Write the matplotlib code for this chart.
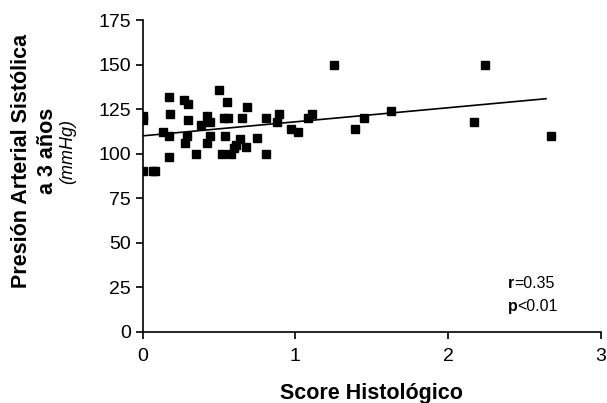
import numpy as np
import matplotlib.pyplot as plt

plt.rcParams['font.family'] = ['Liberation Sans', 'DejaVu Sans']

# score histologico vs presion arterial sistolica
score = [0, 0, 0, 0.065, 0.082, 0.13, 0.17, 0.18, 0.17, 0.17,
         0.27, 0.30, 0.30, 0.29, 0.28, 0.35, 0.38, 0.42, 0.44, 0.44,
         0.42, 0.50, 0.53, 0.56, 0.55, 0.54, 0.52, 0.58, 0.60, 0.61,
         0.64, 0.65, 0.675, 0.68, 0.75, 0.81, 0.81, 0.88, 0.89, 0.97,
         1.02, 1.08, 1.11, 1.25, 1.39, 1.45, 1.625, 2.17, 2.24, 2.67]
pas = [119, 121, 90, 90, 90, 112, 132, 122, 110, 98,
       130, 128, 119, 110, 106, 100, 116, 121, 118, 110,
       106, 136, 120, 120, 129, 110, 100, 100, 103, 105,
       108, 120, 104, 126, 109, 120, 100, 118, 122, 114,
       112, 120, 122, 150, 114, 120, 124, 118, 150, 110]

# recta de regresion
intercept = 110.0
slope = 7.9
fit_x = [0, 2.64]

fig = plt.figure(figsize=(6.07, 4.03), dpi=100)
ax = fig.add_axes([0.235, 0.177, 0.755, 0.773])

ax.plot(score, pas, 's', color='black', ms=5.2)
fx = np.array(fit_x)
ax.plot(fx, intercept + slope*fx, color='black', lw=1.2)

ax.set_xlim(0, 3)
ax.set_ylim(0, 175)
ax.set_xticks([0, 1, 2, 3])
ax.set_yticks(np.arange(0, 176, 25))
ax.spines['top'].set_visible(False)
ax.spines['right'].set_visible(False)
ax.tick_params(labelsize=14, length=5, width=1.2)
ax.tick_params(axis='x', pad=7)
for s in ['left', 'bottom']:
    ax.spines[s].set_linewidth(1.2)

ax.set_xlabel('Score Histológico', fontsize=15.5, fontweight='bold', labelpad=13)

# etiqueta eje y en tres lineas
fig.text(0.036, 0.60, 'Presión Arterial Sistólica', rotation=90, fontsize=15.5,
         fontweight='bold', ha='center', va='center')
fig.text(0.079, 0.625, 'a 3 años', rotation=90, fontsize=15.5,
         fontweight='bold', ha='center', va='center')
fig.text(0.112, 0.625, '(mmHg)', rotation=90, fontsize=13,
         style='italic', ha='center', va='center')

t1 = ax.text(2.39, 27, 'r', fontsize=11.5, fontweight='bold', va='center')
ax.annotate('=0.35', xy=(1, 0.5), xycoords=t1, va='center', fontsize=11.5)
t2 = ax.text(2.39, 14, 'p', fontsize=11.5, fontweight='bold', va='center')
ax.annotate('<0.01', xy=(1, 0.5), xycoords=t2, va='center', fontsize=11.5)

fig.savefig('out.png', dpi=100)
